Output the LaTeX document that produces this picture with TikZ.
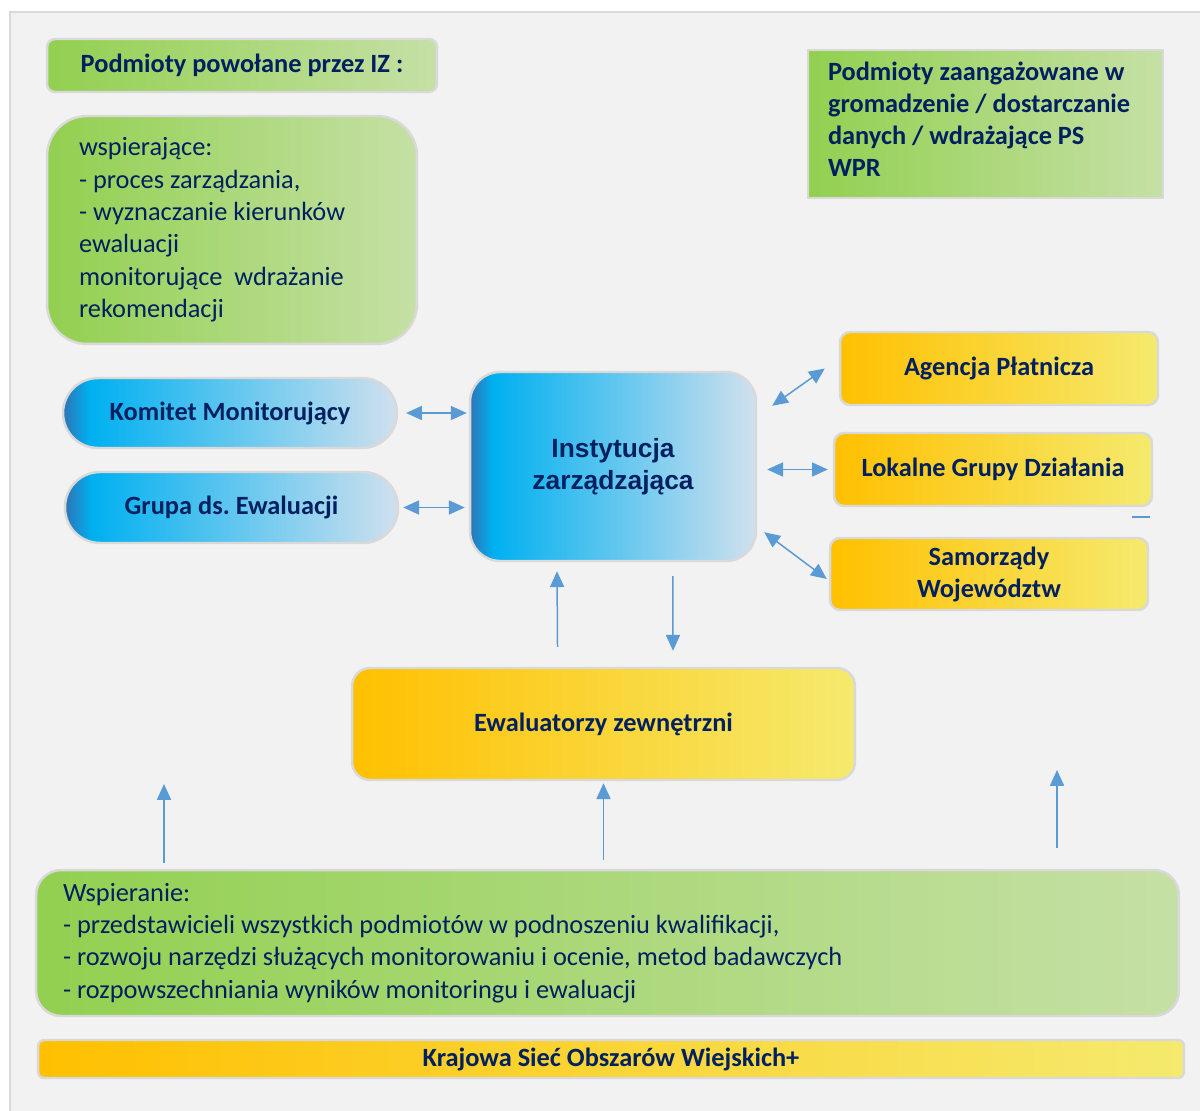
\documentclass[tikz,border=0pt]{standalone}
\usepackage{fontspec}
\setmainfont{Carlito}
\newfontfamily\arialfont{Liberation Sans}
\usetikzlibrary{arrows.meta}
\frenchspacing
\definecolor{panelgray}{RGB}{242, 242, 242}
\definecolor{framegray}{RGB}{217, 217, 217}
\definecolor{navytext}{RGB}{0, 32, 96}
\definecolor{arrowblue}{RGB}{91, 155, 213}
\definecolor{leafgreen}{RGB}{146, 208, 80}
\definecolor{palegreen}{RGB}{197, 224, 165}
\definecolor{sunyellow}{RGB}{255, 192, 0}
\definecolor{paleyellow}{RGB}{245, 234, 110}
\definecolor{deepblue}{RGB}{46, 117, 182}
\definecolor{skyblue}{RGB}{0, 176, 240}
\definecolor{paleblue}{RGB}{208, 224, 238}
\pgfdeclarehorizontalshading{bluefade}{100bp}{color(0bp)=(deepblue); color(25bp)=(deepblue); color(29bp)=(skyblue); color(75bp)=(paleblue); color(100bp)=(paleblue)}
\tikzset{
  box/.style={draw=framegray, line width=1.4pt, text=navytext, align=center, inner sep=0pt},
  greenbox/.style={box, left color=leafgreen, right color=palegreen},
  yellowbox/.style={box, left color=sunyellow, right color=paleyellow},
  bluebox/.style={box, shade, shading=bluefade},
  bodytext/.style={font=\fontsize{15}{18.4}\selectfont},
  headtext/.style={font=\bfseries\fontsize{15}{18.2}\selectfont},
  leftblock/.style={align=flush left, execute at begin node={\spaceskip=0pt\xspaceskip=0pt\relax}},
  oneway/.style={draw=arrowblue, line width=0.85pt, -{Triangle[length=9pt, width=8pt]}},
  twoway/.style={oneway, {Triangle[length=9pt, width=8pt]}-{Triangle[length=9pt, width=8pt]}},
}

\begin{document}
\begin{tikzpicture}[x=0.02cm, y=-0.02cm]
            \useasboundingbox (0, 0) rectangle (1200, 1111);
            \fill[white]     (0, 0)  rectangle (1200, 1111);
            \fill[panelgray] (10, 12) rectangle (1200, 1111);
            \draw[framegray, line width=1.7pt] (10, 1111) -- (10, 12) -- (1200, 12);

            \node[greenbox,  headtext, rounded corners=0.16cm, minimum width=7.80cm,  minimum height=1.06cm] (powolane)     at ( 242.0,   65.5) {Podmioty powołane przez IZ :};
            \node[greenbox,  bodytext, rounded corners=0.80cm, minimum width=7.40cm,  minimum height=4.56cm, text width=6.12cm, leftblock] (wspierajace) at ( 232.0,  230.0)
                 {wspierające:\\- proces zarządzania,\\- wyznaczanie kierunków\\ewaluacji\\monitorujące\ \ wdrażanie\\rekomendacji};
            \node[greenbox,  headtext,                         minimum width=7.10cm,  minimum height=2.96cm, text width=6.30cm, leftblock] (zaangazowane) at ( 985.5,  124.0)
                 {Podmioty zaangażowane w\\gromadzenie / dostarczanie\\danych / wdrażające PS\\WPR\par\vspace{0.2cm}};
            \node[bluebox,   headtext, rounded corners=0.70cm, minimum width=6.68cm,  minimum height=1.40cm] (komitet)      at ( 230.0,  413.0) {Komitet Monitorujący};
            \node[bluebox,   headtext, rounded corners=0.70cm, minimum width=6.66cm,  minimum height=1.42cm] (grupa)        at ( 231.5,  507.5) {Grupa ds. Ewaluacji};
            \node[bluebox,   font=\arialfont\bfseries\fontsize{15}{18.2}\selectfont,
                                       rounded corners=0.60cm, minimum width=5.72cm,  minimum height=3.78cm] (instytucja)   at ( 613.0,  466.5) {Instytucja\\zarządzająca};
            \node[yellowbox, headtext, rounded corners=0.20cm, minimum width=6.36cm,  minimum height=1.46cm] (agencja)      at ( 999.0,  368.5) {Agencja Płatnicza};
            \node[yellowbox, headtext, rounded corners=0.20cm, minimum width=6.36cm,  minimum height=1.46cm] (lokalne)      at ( 993.0,  469.5) {Lokalne Grupy Działania};
            \node[yellowbox, headtext, rounded corners=0.20cm, minimum width=6.36cm,  minimum height=1.44cm] (samorzady)    at ( 989.0,  574.0) {Samorządy\\Województw};
            \node[yellowbox, headtext, rounded corners=0.36cm, minimum width=10.06cm, minimum height=2.24cm] (ewaluatorzy)  at ( 603.5,  724.0) {Ewaluatorzy zewnętrzni};
            \node[greenbox,  bodytext, rounded corners=0.50cm, minimum width=22.86cm, minimum height=2.92cm, text width=21.78cm, leftblock] (wspieranie) at ( 607.5,  943.0)
                 {Wspieranie:\\- przedstawicieli wszystkich podmiotów w podnoszeniu kwalifikacji,\\- rozwoju narzędzi służących monitorowaniu i ocenie, metod badawczych\\- rozpowszechniania wyników monitoringu i ewaluacji};
            \node[yellowbox, headtext, rounded corners=0.12cm, minimum width=22.92cm, minimum height=0.76cm] (krajowa)      at ( 611.0, 1059.0) {Krajowa Sieć Obszarów Wiejskich+};

            \coordinate (leftfree)  at ( 164, 784);
            \coordinate (rightfree) at (1057, 770);

            \draw[twoway, shorten <=4.5pt, shorten >=1.2pt] (komitet.east) -- (komitet.east -| instytucja.west);
            \draw[twoway, shorten <=2.3pt, shorten >=2.3pt] (grupa.east)   -- (grupa.east -| instytucja.west);
            \draw[twoway] ([xshift=0.30cm, yshift=-0.70cm]instytucja.north east) -- ([xshift=-0.28cm]agencja.west);
            \draw[twoway, shorten <=0.2cm, shorten >=0.1cm] (instytucja.east |- lokalne.west) -- (lokalne.west);
            \draw[twoway] ([xshift=0.14cm, yshift=0.60cm]instytucja.south east) -- ([xshift=-0.04cm, yshift=-0.10cm]samorzady.west);
            \draw[oneway] ([xshift=-0.92cm, yshift=0.40cm]ewaluatorzy.north) -- ([xshift=-1.12cm, yshift=-0.18cm]instytucja.south);
            \draw[oneway] ([xshift=1.20cm, yshift=-0.28cm]instytucja.south) -- ([xshift=1.39cm, yshift=0.32cm]ewaluatorzy.north);
            \draw[oneway, shorten <=0.12cm] (wspieranie.north -| leftfree) -- (leftfree);
            \draw[oneway, shorten <=0.18cm, shorten >=0.04cm] (wspieranie.north -| ewaluatorzy.south) -- (ewaluatorzy.south);
            \draw[oneway, shorten <=0.42cm] (wspieranie.north -| rightfree) -- (rightfree);
            \draw[arrowblue, line width=1pt] (1132, 517) -- (1150, 517);
        \end{tikzpicture}
\end{document}
